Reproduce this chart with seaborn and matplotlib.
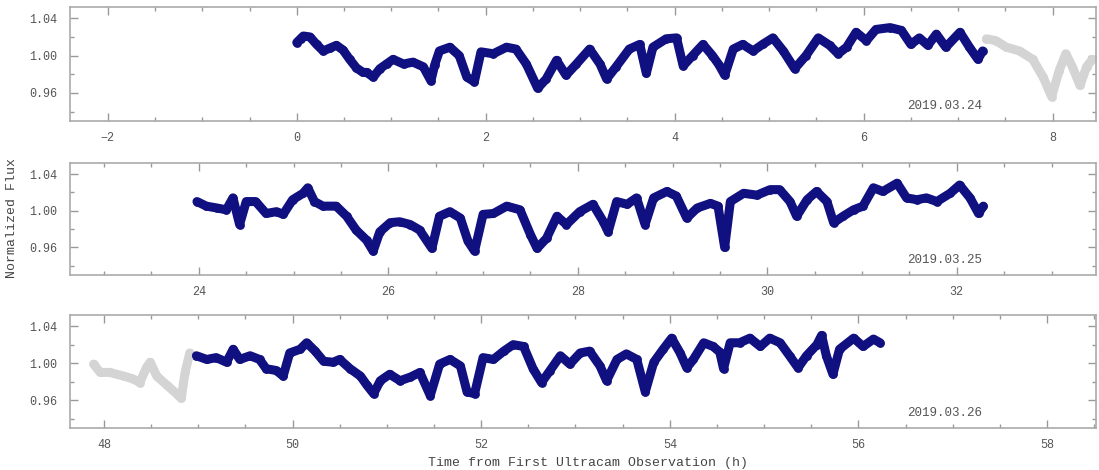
import matplotlib
matplotlib.use("Agg")
import matplotlib.pyplot as plt
import seaborn as sns
import numpy as np
from matplotlib.ticker import MultipleLocator

# ---------------- data ----------------
n1_t = [0.00, 0.04, 0.07, 0.14, 0.21, 0.28, 0.35, 0.42, 0.49, 0.56, 0.63, 0.70, 0.74, 0.81, 0.88,
        0.95, 1.02, 1.13, 1.23, 1.34, 1.42, 1.46, 1.51, 1.62, 1.72, 1.80, 1.88, 1.95, 2.08, 2.22,
        2.32, 2.43, 2.55, 2.64, 2.75, 2.85, 2.96, 3.10, 3.21, 3.28, 3.38, 3.52, 3.63, 3.70, 3.77,
        3.91, 4.02, 4.09, 4.19, 4.30, 4.40, 4.47, 4.53, 4.62, 4.72, 4.83, 4.93, 5.04, 5.15, 5.27,
        5.39, 5.52, 5.64, 5.73, 5.82, 5.92, 6.03, 6.13, 6.28, 6.40, 6.50, 6.59, 6.68, 6.77, 6.87,
        7.02, 7.12, 7.21, 7.26]
n1_f = [1.014, 1.018, 1.021, 1.020, 1.012, 1.005, 1.008, 1.011, 1.006, 0.996, 0.987, 0.982, 0.982, 0.977, 0.986,
        0.991, 0.996, 0.991, 0.993, 0.988, 0.973, 0.990, 1.005, 1.009, 1.000, 0.977, 0.972, 1.004, 1.002, 1.009,
        1.007, 0.991, 0.965, 0.975, 0.995, 0.979, 0.991, 1.007, 0.991, 0.975, 0.988, 1.007, 1.012, 0.981, 1.009,
        1.018, 1.019, 0.989, 1.000, 1.012, 1.000, 0.990, 0.979, 1.007, 1.012, 1.005, 1.012, 1.019, 1.005, 0.986,
        1.000, 1.019, 1.011, 1.002, 1.009, 1.025, 1.016, 1.028, 1.030, 1.027, 1.012, 1.019, 1.011, 1.023, 1.009,
        1.025, 1.009, 0.996, 1.005]
n1_gray_t = [7.30, 7.40, 7.51, 7.65, 7.79, 7.90, 7.99, 8.07, 8.14, 8.21, 8.29, 8.36, 8.42]
n1_gray_f = [1.018, 1.016, 1.009, 1.005, 0.996, 0.977, 0.956, 0.984, 1.002, 0.988, 0.968, 0.988, 0.996]

n2_t = [23.98, 24.08, 24.19, 24.29, 24.36, 24.43, 24.50, 24.60, 24.71, 24.82, 24.89, 24.99, 25.10, 25.15, 25.22,
        25.31, 25.45, 25.56, 25.66, 25.77, 25.84, 25.91, 26.02, 26.12, 26.23, 26.33, 26.46, 26.54, 26.65, 26.76,
        26.84, 26.91, 27.00, 27.11, 27.25, 27.39, 27.50, 27.57, 27.67, 27.78, 27.88, 28.02, 28.16, 28.27, 28.32,
        28.41, 28.52, 28.62, 28.71, 28.80, 28.94, 29.04, 29.15, 29.26, 29.40, 29.48, 29.55, 29.61, 29.75, 29.89,
        30.03, 30.13, 30.24, 30.31, 30.42, 30.52, 30.63, 30.70, 30.80, 30.91, 31.01, 31.12, 31.22, 31.37, 31.47,
        31.58, 31.68, 31.79, 31.93, 32.03, 32.14, 32.23, 32.28]
n2_f = [1.010, 1.005, 1.003, 1.001, 1.014, 0.985, 1.010, 1.010, 0.997, 0.999, 0.996, 1.012, 1.019, 1.025, 1.010,
        1.005, 1.005, 0.994, 0.979, 0.968, 0.956, 0.977, 0.987, 0.988, 0.985, 0.979, 0.959, 0.994, 0.999, 0.992,
        0.967, 0.956, 0.996, 0.997, 1.005, 1.001, 0.974, 0.959, 0.970, 0.994, 0.985, 0.999, 1.007, 0.988, 0.977,
        1.010, 1.007, 1.014, 0.985, 1.014, 1.021, 1.016, 0.992, 1.003, 1.008, 1.005, 0.960, 1.010, 1.019, 1.017,
        1.023, 1.023, 1.010, 0.994, 1.012, 1.021, 1.010, 0.987, 0.994, 1.001, 1.005, 1.025, 1.021, 1.030, 1.014,
        1.012, 1.014, 1.010, 1.019, 1.028, 1.014, 0.997, 1.005]

n3_gray_t = [47.89, 47.96, 48.06, 48.21, 48.31, 48.38, 48.45, 48.49, 48.56, 48.67, 48.77, 48.82, 48.86, 48.91]
n3_gray_f = [0.999, 0.990, 0.990, 0.986, 0.983, 0.979, 0.995, 1.001, 0.986, 0.976, 0.967, 0.962, 0.990, 1.011]
n3_t = [48.98, 49.09, 49.19, 49.30, 49.37, 49.44, 49.55, 49.65, 49.72, 49.83, 49.90, 49.97, 50.08, 50.15, 50.24,
        50.33, 50.43, 50.50, 50.61, 50.72, 50.79, 50.86, 50.93, 51.03, 51.14, 51.25, 51.35, 51.46, 51.56, 51.67,
        51.78, 51.85, 51.93, 52.02, 52.13, 52.24, 52.34, 52.45, 52.55, 52.64, 52.73, 52.84, 52.94, 53.05, 53.15,
        53.26, 53.33, 53.44, 53.54, 53.65, 53.74, 53.83, 53.93, 54.02, 54.11, 54.18, 54.25, 54.36, 54.46, 54.53,
        54.57, 54.64, 54.74, 54.85, 54.96, 55.06, 55.17, 55.27, 55.36, 55.45, 55.56, 55.61, 55.66, 55.73, 55.80,
        55.95, 56.05, 56.16, 56.23]
n3_f = [1.008, 1.004, 1.006, 1.001, 1.015, 1.004, 1.008, 1.004, 0.994, 0.992, 0.986, 1.011, 1.015, 1.022, 1.013,
        1.002, 1.001, 1.004, 0.994, 0.986, 0.976, 0.967, 0.981, 0.988, 0.981, 0.985, 0.990, 0.965, 0.999, 1.004,
        0.997, 0.969, 0.967, 1.006, 1.004, 1.013, 1.020, 1.018, 0.994, 0.979, 0.992, 1.008, 0.999, 1.011, 1.013,
        0.997, 0.981, 1.004, 1.010, 1.004, 0.969, 1.001, 1.015, 1.027, 1.011, 0.995, 1.004, 1.022, 1.018, 1.012,
        0.994, 1.022, 1.022, 1.027, 1.018, 1.027, 1.022, 1.008, 0.995, 1.008, 1.020, 1.030, 1.008, 0.988, 1.015,
        1.027, 1.018, 1.026, 1.022]

dates = ["2019.03.24", "2019.03.25", "2019.03.26"]
xlims = [(-2.40, 8.46), (22.64, 33.47), (47.64, 58.52)]
ytick_vals = [0.96, 1.00, 1.04]
ytick_labels = ["0.96", "1.00", "1.04"]
xlabel = "Time from First Ultracam Observation (h)"
ylabel = "Normalized Flux"

# ---------------- style ----------------
sns.set_theme(style="ticks")
plt.rcParams["font.family"] = ["Liberation Mono", "DejaVu Sans Mono"]
plt.rcParams.update({
    "xtick.direction": "in", "ytick.direction": "in",
    "xtick.top": True, "ytick.right": True,
    "xtick.color": "#999999", "ytick.color": "#999999",
    "xtick.labelcolor": "#555555", "ytick.labelcolor": "#555555",
    "axes.edgecolor": "#aaaaaa", "axes.linewidth": 1.2,
})

BLUE = "#101080"
GRAY = "#d4d4d4"

fig = plt.figure(figsize=(10.99, 4.70), dpi=100)
left, width = 0.0637, 0.9336
axes_rects = [(left, 0.7426, width, 0.2424),
              (left, 0.4149, width, 0.2383),
              (left, 0.0894, width, 0.2404)]
axes = [fig.add_axes(r) for r in axes_rects]

segments = [
    [(n1_t, n1_f, BLUE), (n1_gray_t, n1_gray_f, GRAY)],
    [(n2_t, n2_f, BLUE)],
    [(n3_gray_t, n3_gray_f, GRAY), (n3_t, n3_f, BLUE)],
]

for ax, segs, xl, date in zip(axes, segments, xlims, dates):
    for t, f, c in segs:
        sns.lineplot(x=t, y=f, ax=ax, color=c, linewidth=6.5, sort=False,
                     estimator=None, solid_capstyle="round", solid_joinstyle="round")
        sns.scatterplot(x=t, y=f, ax=ax, color=c, s=40, linewidth=0)
    ax.set_xlim(*xl)
    ax.set_ylim(0.930, 1.052)
    ax.xaxis.set_major_locator(MultipleLocator(2))
    ax.xaxis.set_minor_locator(MultipleLocator(0.5))
    ax.set_yticks(ytick_vals)
    ax.set_yticklabels(ytick_labels)
    ax.yaxis.set_minor_locator(MultipleLocator(0.02))
    ax.tick_params(axis="both", which="major", length=6, width=1.0, labelsize=8.5)
    ax.tick_params(axis="both", which="minor", length=3, width=1.0)
    ax.tick_params(axis="x", which="major", pad=8)
    ax.tick_params(axis="y", which="major", pad=9)
    ax.set_xlabel("")
    ax.set_ylabel("")
    for s in ax.spines.values():
        s.set_visible(True)
    ax.text(0.889, 0.13, date, transform=ax.transAxes, ha="right", va="center",
            fontsize=9, color="#555555")

fig.text(0.535, 0.015, xlabel, ha="center", va="center", fontsize=9.5, color="#444444")
fig.text(0.011, 0.536, ylabel, ha="center", va="center", rotation=90, fontsize=9.5, color="#444444")

fig.savefig("out.png", dpi=100)
